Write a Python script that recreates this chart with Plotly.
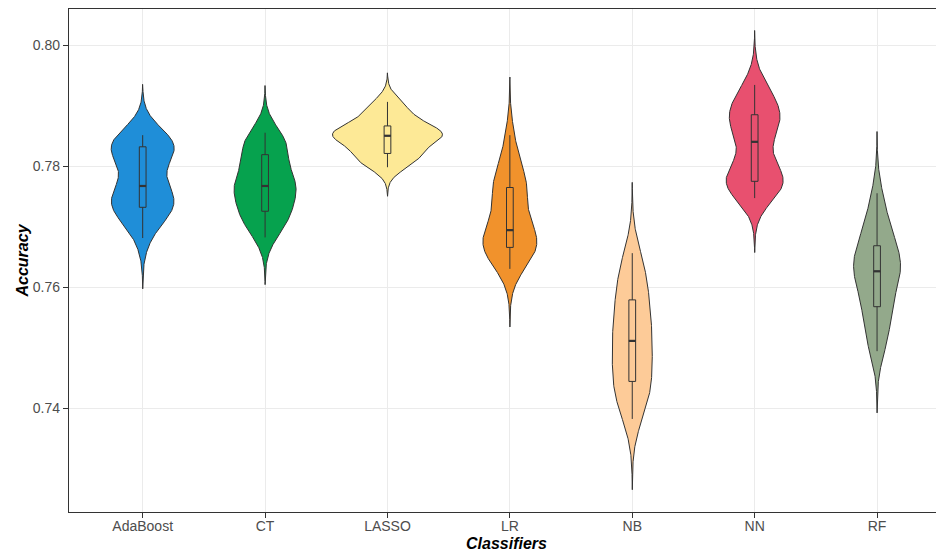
import numpy as np
import plotly.graph_objects as go

classifiers = ["AdaBoost", "CT", "LASSO", "LR", "NB", "NN", "RF"]

adaboost = [0.7681, 0.7708, 0.7722, 0.7730, 0.7731, 0.7732, 0.7740, 0.7748, 0.7756, 0.7762, 0.7767,
            0.7790, 0.7812, 0.7820, 0.7826, 0.7831, 0.7834, 0.7837, 0.7840, 0.7845, 0.7851]
ct = [0.7682, 0.7698, 0.7710, 0.7718, 0.7723, 0.7726, 0.7740, 0.7752, 0.7760, 0.7764, 0.7767,
      0.7772, 0.7778, 0.7786, 0.7798, 0.7817, 0.7824, 0.7832, 0.7840, 0.7848, 0.7855]
lasso = [0.7798, 0.7805, 0.7812, 0.7818, 0.7820, 0.7821, 0.7840, 0.7845, 0.7848, 0.7849, 0.7850,
         0.7851, 0.7852, 0.7855, 0.7860, 0.7865, 0.7870, 0.7878, 0.7888, 0.7898, 0.7906]
lr = [0.7630, 0.7645, 0.7655, 0.7660, 0.7664, 0.7666, 0.7672, 0.7678, 0.7684, 0.7689, 0.7694,
      0.7705, 0.7725, 0.7745, 0.7755, 0.7762, 0.7772, 0.7778, 0.7790, 0.7815, 0.7851]
nb = [0.7382, 0.7400, 0.7415, 0.7428, 0.7438, 0.7446, 0.7460, 0.7475, 0.7488, 0.7500, 0.7511,
      0.7522, 0.7535, 0.7548, 0.7560, 0.7575, 0.7590, 0.7605, 0.7620, 0.7638, 0.7656]
nn = [0.7747, 0.7760, 0.7768, 0.7772, 0.7774, 0.7775, 0.7778, 0.7781, 0.7788, 0.7812, 0.7840,
      0.7852, 0.7864, 0.7871, 0.7877, 0.7883, 0.7890, 0.7898, 0.7908, 0.7920, 0.7934]
rf = [0.7494, 0.7512, 0.7530, 0.7545, 0.7560, 0.7570, 0.7590, 0.7605, 0.7615, 0.7620, 0.7626,
      0.7632, 0.7640, 0.7648, 0.7655, 0.7666, 0.7675, 0.7690, 0.7705, 0.7725, 0.7755]

accuracy = [adaboost, ct, lasso, lr, nb, nn, rf]
bandwidths = [0.0028, 0.0026, 0.0016, 0.0032, 0.0039, 0.0030, 0.0034]

y_ticks = [0.74, 0.76, 0.78, 0.80]

# styles
colors = ["#1F8ED8", "#06A24E", "#FDE996", "#F1922C", "#FDCB98", "#E8506F", "#93A98B"]
violin_widths = [0.515, 0.507, 0.899, 0.441, 0.327, 0.466, 0.384]  # full width, category units
box_width = 0.055
edge = "#333333"
x_range = [-0.602, 6.547]
y_range = [0.72282, 0.80595]

fig = go.Figure()
for i, (name, vals, bw, col, w) in enumerate(zip(classifiers, accuracy, bandwidths, colors, violin_widths)):
    v = np.asarray(vals)
    grid = np.linspace(v.min() - 3 * bw, v.max() + 3 * bw, 512)
    dens = np.exp(-0.5 * ((grid[:, None] - v[None, :]) / bw) ** 2).sum(axis=1)
    half = dens / dens.max() * (w / 2)
    xs = np.concatenate([i + half, (i - half)[::-1], [i + half[0]]])
    ys = np.concatenate([grid, grid[::-1], [grid[0]]])
    fig.add_trace(go.Scatter(
        x=xs, y=ys, mode="lines", fill="toself", fillcolor=col,
        line=dict(color=edge, width=1), name=name, showlegend=False, hoverinfo="skip",
    ))

# boxplots on an overlaid subplot so they sit above the violins
for i, (name, vals) in enumerate(zip(classifiers, accuracy)):
    fig.add_trace(go.Box(
        x=[i] * len(vals), y=vals, name=name, width=box_width,
        xaxis="x2", yaxis="y2",
        fillcolor="rgba(0,0,0,0)", line=dict(color=edge, width=1),
        whiskerwidth=0, boxpoints=False, quartilemethod="linear", showlegend=False,
    ))
    med = float(np.median(vals))
    fig.add_trace(go.Scatter(
        x=[i - box_width / 2, i + box_width / 2], y=[med, med], mode="lines",
        xaxis="x2", yaxis="y2",
        line=dict(color=edge, width=2.2), showlegend=False, hoverinfo="skip",
    ))

font_family = "Liberation Sans, Arial, sans-serif"
fig.update_layout(
    width=936, height=548,
    margin=dict(l=61, r=0, t=1, b=44),
    paper_bgcolor="white", plot_bgcolor="white",
    boxmode="overlay",
    font=dict(family=font_family, color="#4D4D4D", size=14),
    xaxis=dict(
        range=x_range, automargin=False,
        tickvals=list(range(len(classifiers))), ticktext=classifiers,
        showgrid=True, gridcolor="#EBEBEB", gridwidth=1,
        showline=True, linecolor=edge, linewidth=1.3, mirror=True,
        ticks="outside", ticklen=5, tickcolor=edge, tickwidth=1,
        ticklabelstandoff=-4,
        tickfont=dict(size=14, color="#4D4D4D"),
        title=dict(text="<b><i>Classifiers</i></b>", font=dict(size=16, color="#000000"), standoff=4),
        zeroline=False,
    ),
    yaxis=dict(
        range=y_range, automargin=False,
        tickvals=y_ticks, ticktext=[f"{t:.2f}" for t in y_ticks],
        showgrid=True, gridcolor="#EBEBEB", gridwidth=1,
        showline=True, linecolor=edge, linewidth=1.3, mirror=False,
        ticks="outside", ticklen=5, tickcolor=edge, tickwidth=1,
        tickfont=dict(size=14, color="#4D4D4D"),
        title=dict(text="<b><i>Accuracy</i></b>", font=dict(size=16, color="#000000"), standoff=0),
        zeroline=False,
    ),
    xaxis2=dict(range=x_range, overlaying="x", visible=False, automargin=False),
    yaxis2=dict(range=y_range, overlaying="y", visible=False, automargin=False),
)

fig.write_html("out.html")
